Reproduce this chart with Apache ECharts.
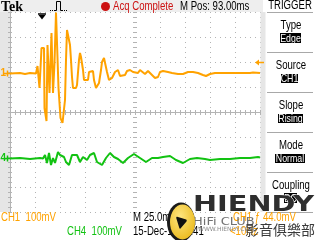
<!DOCTYPE html>
<html><head><meta charset="utf-8">
<script src="https://cdn.jsdelivr.net/npm/echarts@6/dist/echarts.min.js"></script>
<style>html,body{margin:0;padding:0;background:#fff;overflow:hidden}#c{width:320px;height:240px}</style>
</head><body><div id="c"></div>
<script>
// ---- DATA (time in ms relative to trigger, amplitude in mV relative to channel ground) ----
const ch1Time = [-32,-22,-17,-12,-6,-5,-4.5,-3,-2.5,-1,-0.5,2,2.5,4,4.5,5,5.5,7,7.5,9,9.5,10.5,11,12,12.5,13.5,14,16,16.5,18,18.5,20,20.5,22,23,24,25,27,28,29,30,31,34,35,36,37,38,39,40,41,42,44,46,47,48,51,52,54,56,57,59,60,62,64,65,67,68,70,73,76,78,83,85,88,91,96,98,100,103,106,108,110,113,115,116,118,121,126,130,136,141,146,151,156,161,164,168,173,178,188,198,208,211,218];
const ch1mV   = [0,2,-2,2,0,0,30,30,-58,-58,102,102,-138,-138,-190,-190,114,114,-78,-78,162,162,-78,-78,42,42,244,244,-58,-58,-178,-178,-198,-198,-106,54,174,178,114,54,-14,-58,-58,-46,-46,54,82,66,62,14,-26,-34,-26,6,14,10,-26,-58,-50,-38,14,46,62,54,6,-26,-34,-18,6,14,-10,-6,10,14,6,2,14,14,-2,10,14,-6,-18,-22,-14,6,10,6,2,-2,-2,6,6,2,-6,-10,-2,2,2,2,2,2,4,2];
const ch4Time = [-32,-22,-12,-2,1,3,5,7,9,11,13,16,18,20,22,24,27,30,32,35,38,41,45,48,52,55,60,64,68,72,76,81,86,92,98,104,110,116,121,128,134,141,148,155,163,168,178,188,198,208,216,218];
const ch4mV   = [0,2,-2,2,0,14,-18,22,-26,2,-18,26,14,22,6,-14,-26,14,6,14,-14,6,-6,14,22,-14,-26,2,22,6,-2,-18,2,18,2,-14,2,2,6,10,-6,-18,-2,2,-2,-6,-2,-2,2,2,6,4];

const msPerDiv = 25;        // M 25.0ms
const mPos = 93;            // M Pos: 93.00ms
const ch1mVPerDiv = 100;    // CH1 100mV
const ch4mVPerDiv = 100;    // CH4 100mV
const ch1OffsetDiv = 1.54;  // CH1 ground marker position (divisions above centre)
const ch4OffsetDiv = -1.86; // CH4 ground marker position
const trigLevel = 44;       // CH1 trigger level, mV
const hDivs = 10, vDivs = 8;

// texts
const headerTexts = {brand:'Tek', status:'Acq Complete', pos:'M Pos: 93.00ms', menu:'TRIGGER'};
const menuTitles = ['Type','Source','Slope','Mode','Coupling'];
const menuValues = ['Edge','CH1','Rising','Normal','DC'];
const bottomTexts = {ch1:'CH1  100mV', ch4:'CH4  100mV', time:'M 25.0ms', date:'15-Dec-14 11:41', trig:'CH1 \u0192 44.0mV', freq:'<10Hz'};

// ---- CHART ----
const ORANGE = '#ffa200', GREEN = '#12c212', GRID = '#b4b4b4';
const SANS = "'Liberation Sans',Arial,sans-serif";
const chart = echarts.init(document.getElementById('c'), null, {renderer:'canvas'});

const tMin = mPos - msPerDiv*hDivs/2, tMax = mPos + msPerDiv*hDivs/2;
const half = vDivs/2;
function borderAxis(pos, extra){
  return Object.assign({type:'value', position:pos, min:0, max:hDivs, interval:1,
    axisLine:{show:true, lineStyle:{color:GRID, width:1}},
    axisTick:{show:true, inside:true, length:2, lineStyle:{color:GRID}},
    minorTick:{show:true, splitNumber:5, length:2, lineStyle:{color:GRID}},
    axisLabel:{show:false}, splitLine:{show:false}}, extra||{});
}
function vAxis(pos, extra){
  return Object.assign({type:'value', position:pos, min:-half, max:half, interval:1,
    axisLine:{show:true, lineStyle:{color:GRID, width:1}},
    axisTick:{show:true, inside:true, length:2, lineStyle:{color:GRID}},
    minorTick:{show:true, splitNumber:5, length:2, lineStyle:{color:GRID}},
    axisLabel:{show:false}, splitLine:{show:false}}, extra||{});
}
const dotted = {show:true, lineStyle:{color:GRID, width:1, type:[1,4]}};

chart.setOption({
  animation:false,
  backgroundColor:'#ffffff',
  grid:{left:10, top:12, width:250, height:200, show:true, backgroundColor:'#fff', borderWidth:0, containLabel:false},
  xAxis:[
    borderAxis('bottom', {splitLine:dotted}),
    borderAxis('top'),
    borderAxis('bottom', {offset:-101, axisLine:{show:false}, axisTick:{show:true, inside:false, length:2, lineStyle:{color:GRID}}, minorTick:{show:true, splitNumber:5, length:2, lineStyle:{color:GRID}}}),
    {type:'value', min:tMin, max:tMax, show:false}
  ],
  yAxis:[
    vAxis('left', {splitLine:dotted}),
    vAxis('right'),
    vAxis('left', {offset:-127, axisLine:{show:false}, axisTick:{show:true, inside:false, length:4, lineStyle:{color:GRID}}, minorTick:{show:true, splitNumber:5, length:4, lineStyle:{color:GRID}}}),
    {type:'value', min:(-half-ch1OffsetDiv)*ch1mVPerDiv, max:(half-ch1OffsetDiv)*ch1mVPerDiv, show:false},
    {type:'value', min:(-half-ch4OffsetDiv)*ch4mVPerDiv, max:(half-ch4OffsetDiv)*ch4mVPerDiv, show:false}
  ],
  series:[
    {name:'CH4', type:'line', xAxisIndex:3, yAxisIndex:4, data:ch4Time.map((t,i)=>[t,ch4mV[i]]),
      showSymbol:false, symbol:'none', lineStyle:{color:GREEN, width:2}, z:3},
    {name:'CH1', type:'line', xAxisIndex:3, yAxisIndex:3, data:ch1Time.map((t,i)=>[t,ch1mV[i]]),
      showSymbol:false, symbol:'none', lineStyle:{color:ORANGE, width:2}, z:4}
  ]
});

const xTrig = chart.convertToPixel({xAxisIndex:3}, 0);
const y1 = chart.convertToPixel({yAxisIndex:3}, 0);
const y4 = chart.convertToPixel({yAxisIndex:4}, 0);
const yTL = chart.convertToPixel({yAxisIndex:3}, trigLevel);

// text helper: sx = horizontal squeeze (the scope font is narrow)
function txt(text, x, y, fill, size, extra, sx, z){
  return {type:'text', z:z||50, x:x, y:y, scaleX:sx||0.8, scaleY:1,
    style:Object.assign({text:text, x:0, y:0, fill:fill, fontSize:size, fontFamily:SANS,
      verticalAlign:'middle', textVerticalAlign:'middle', textAlign:'left'}, extra||{})};
}
const g = [];
// backgrounds
g.push({type:'rect', z:0, shape:{x:0,y:0,width:263,height:12}, style:{fill:'#eeeeee'}});
g.push({type:'rect', z:0, shape:{x:0,y:12,width:10,height:200}, style:{fill:'#e6e6e6'}});
g.push({type:'rect', z:0, shape:{x:260.5,y:12,width:5,height:200}, style:{fill:'#e6e6e6'}});
// header
g.push(txt(headerTexts.brand, 1, 7, '#000', 14, {fontFamily:"'Liberation Serif',serif", fontWeight:'bold'}, 1));
g.push({type:'polyline', z:50, shape:{points:[[55,10.5],[56.5,10.5],[56.5,1.5],[60.5,1.5],[60.5,10.5],[62,10.5]]}, style:{stroke:'#000', fill:null, lineWidth:1}});
g.push({type:'line', z:50, shape:{x1:50,y1:10.5,x2:55,y2:10.5}, style:{stroke:'#000', lineWidth:1, lineDash:[1,1]}});
g.push({type:'line', z:50, shape:{x1:62,y1:10.5,x2:68,y2:10.5}, style:{stroke:'#000', lineWidth:1, lineDash:[1,1]}});
g.push({type:'circle', z:50, shape:{cx:105.5, cy:6.5, r:4.5}, style:{fill:'#cc1111'}});
g.push(txt(headerTexts.status, 113, 6.5, '#cc1111', 12));
g.push(txt(headerTexts.pos, 180, 6.5, '#000', 12));
g.push(txt(headerTexts.menu, 290, 6, '#000', 12, {textAlign:'center'}));
// right menu
const sepY = [12,52,92,132,172,212];
sepY.forEach(y=>g.push({type:'line', z:50, shape:{x1:267,y1:y+0.5,x2:313,y2:y+0.5}, style:{stroke:'#a8a8a8', lineWidth:1}}));
const boxes = [[280,33,21,10],[281,74,17,9],[278,114,25,9],[275,154,30,9],[284,193,13,10]];
menuTitles.forEach((t,i)=>{
  g.push(txt(t, 291, 26+40*i, '#000', 12, {textAlign:'center'}));
  const b = boxes[i];
  g.push({type:'rect', z:50, shape:{x:b[0],y:b[1],width:b[2],height:b[3]}, style:{fill:'#000'}});
  g.push(txt(menuValues[i], b[0]+b[2]/2, b[1]+b[3]/2+0.5, '#fff', 11, {textAlign:'center'}, 0.8, 51));
});
// channel markers
g.push(txt('1', 0.5, y1, ORANGE, 10, {fontWeight:'bold'}, 1));
g.push({type:'line', z:50, shape:{x1:4,y1:y1,x2:11,y2:y1}, style:{stroke:ORANGE, lineWidth:1.5}});
g.push({type:'line', z:50, shape:{x1:7.5,y1:y1-3,x2:7.5,y2:y1+3}, style:{stroke:ORANGE, lineWidth:1.5}});
g.push(txt('4', 0.5, y4, GREEN, 10, {fontWeight:'bold'}, 1));
g.push({type:'line', z:50, shape:{x1:4,y1:y4,x2:11,y2:y4}, style:{stroke:GREEN, lineWidth:1.5}});
g.push({type:'line', z:50, shape:{x1:7.5,y1:y4-3,x2:7.5,y2:y4+3}, style:{stroke:GREEN, lineWidth:1.5}});
// trigger position arrow
g.push({type:'line', z:50, shape:{x1:xTrig-4,y1:14,x2:xTrig+4,y2:14}, style:{stroke:'#000', lineWidth:1.5}});
g.push({type:'polygon', z:50, shape:{points:[[xTrig-3.5,15],[xTrig+3.5,15],[xTrig,19.5]]}, style:{fill:'#000'}});
// trigger level arrow (right)
g.push({type:'polygon', z:50, shape:{points:[[255,yTL],[259,yTL-3],[259,yTL+3]]}, style:{fill:ORANGE}});
g.push({type:'line', z:50, shape:{x1:258,y1:yTL,x2:264,y2:yTL}, style:{stroke:ORANGE, lineWidth:1.5}});
// bottom readouts
g.push(txt(bottomTexts.ch1, 1, 218, ORANGE, 12));
g.push(txt(bottomTexts.time, 133, 218, '#000', 12));
g.push(txt(bottomTexts.ch4, 67, 232, GREEN, 12));
g.push(txt(bottomTexts.date, 133, 232, '#000', 12));
g.push(txt(bottomTexts.trig, 233, 218, ORANGE, 12));
g.push(txt(bottomTexts.freq, 230, 232, ORANGE, 12));
// HIENDY watermark
g.push({type:'group', z:100, x:181, y:222, scaleY:1.4, children:[
  {type:'circle', z:100, shape:{cx:0,cy:0,r:14}, style:{fill:'#1a1a1a'}},
  {type:'circle', z:101, shape:{cx:1.5,cy:0,r:12.5}, style:{fill:new echarts.graphic.RadialGradient(0.4,0.35,0.8,[{offset:0,color:'#ffe680'},{offset:1,color:'#e8b410'}])}},
  {type:'polygon', z:102, shape:{points:[[-4,-3],[5,-1],[-1,4]]}, style:{fill:'#111', stroke:'#111', lineWidth:1.5, lineJoin:'round'}}
]});
g.push({type:'text', z:100, x:193, y:216.5, scaleX:1.37, style:{text:'HIENDY', x:0, y:0, fill:'#2e2e2e', fontSize:21, fontWeight:'bold', fontFamily:"'DejaVu Sans',sans-serif", textAlign:'left', verticalAlign:'bottom', textVerticalAlign:'bottom', stroke:'#ffffff', lineWidth:0.8}});
g.push({type:'text', z:100, x:193, y:222, scaleX:1.3, style:{text:'HiFi CLUB', x:0, y:0, fill:'#707070', fontSize:10, fontFamily:"'DejaVu Sans',sans-serif", verticalAlign:'middle', textVerticalAlign:'middle'}});
g.push({type:'text', z:100, style:{text:'WWW.HIENDY.COM', x:198, y:229, fill:'#8a8a8a', fontSize:6, fontFamily:"'DejaVu Sans',sans-serif", verticalAlign:'middle', textVerticalAlign:'middle'}});
g.push({type:'text', z:100, style:{text:'影音俱樂部', x:245, y:229.5, fill:'#3a3a3a', fontSize:14, fontFamily:"'Noto Sans CJK TC',sans-serif", verticalAlign:'middle', textVerticalAlign:'middle'}});

chart.setOption({graphic:g});
</script></body></html>
